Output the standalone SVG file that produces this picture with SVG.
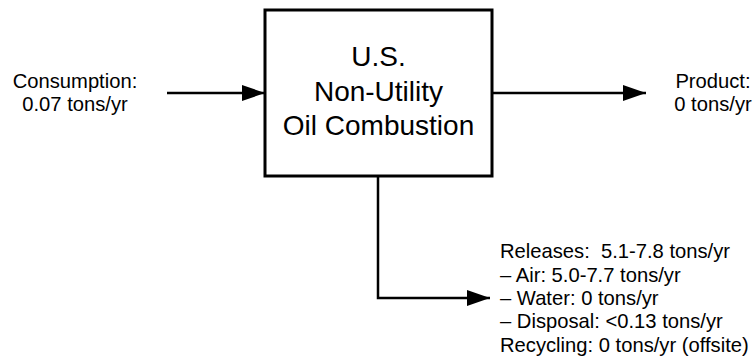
<svg xmlns="http://www.w3.org/2000/svg" width="755" height="360" viewBox="0 0 755 360">
<style>
text{font-family:"Liberation Sans",Arial,sans-serif;fill:#000}
.s{font-size:20.2px}
.b{font-size:28px}
.ln{stroke:#000;stroke-width:2.5;fill:none}
</style>
<defs>
<marker id="ah" markerUnits="userSpaceOnUse" markerWidth="24" markerHeight="18" refX="23" refY="8" orient="auto">
<path d="M0,0 L23,8 L0,16 Z" fill="#000"/>
</marker>
</defs>
<rect width="755" height="360" fill="#fff"/>
<g id="process">
<rect x="265" y="10" width="227" height="166" fill="#fff" stroke="#000" stroke-width="3"/>
<text class="b" text-anchor="middle" x="378.5" y="66">U.S.</text>
<text class="b" text-anchor="middle" x="378.5" y="101">Non-Utility</text>
<text class="b" text-anchor="middle" x="378.5" y="135">Oil Combustion</text>
</g>
<g id="consumption">
<text class="s" text-anchor="middle" x="75" y="88">Consumption:</text>
<text class="s" text-anchor="middle" x="75" y="111">0.07 tons/yr</text>
</g>
<g id="product">
<text class="s" text-anchor="middle" x="713" y="88">Product:</text>
<text class="s" text-anchor="middle" x="713" y="111">0 tons/yr</text>
</g>
<g id="releases">
<text class="s" x="500" y="258" xml:space="preserve">Releases:  5.1-7.8 tons/yr</text>
<text class="s" x="500" y="282">– Air: 5.0-7.7 tons/yr</text>
<text class="s" x="500" y="305">– Water: 0 tons/yr</text>
<text class="s" x="500" y="328">– Disposal: &lt;0.13 tons/yr</text>
<text class="s" x="500" y="352">Recycling: 0 tons/yr (offsite)</text>
</g>
<g id="connectors">
<line class="ln" x1="167" y1="93" x2="265" y2="93" marker-end="url(#ah)"/>
<line class="ln" x1="492" y1="93" x2="646" y2="93" marker-end="url(#ah)"/>
<polyline class="ln" points="378,176 378,298 490,298" marker-end="url(#ah)"/>
</g>
</svg>
